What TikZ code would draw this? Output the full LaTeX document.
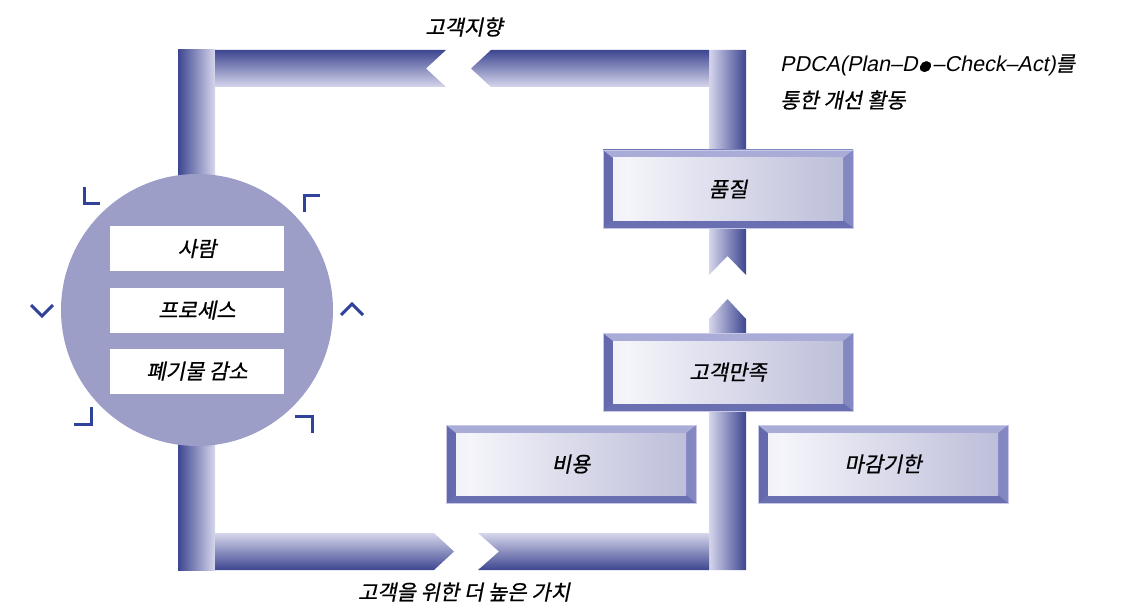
\documentclass[tikz,border=0pt]{standalone}
\usepackage{fontspec}
\newfontfamily\kofont{Noto Sans CJK KR}[FakeSlant=0.2,FakeBold=0.8]
\newfontfamily\lafont{Liberation Sans}[FakeSlant=0.2]
\usepackage{tikz}
\usepackage{xcolor}
\definecolor{bardark}{HTML}{3D4690}
\definecolor{barlight}{HTML}{D6D6EC}
\definecolor{circfill}{HTML}{9C9EC8}
\definecolor{chev}{HTML}{30429A}
\definecolor{bevL}{HTML}{6469AD}
\definecolor{bevR}{HTML}{8589C2}
\definecolor{bevT}{HTML}{A9ACD6}
\definecolor{bevB}{HTML}{6A6FB2}
\definecolor{rim}{HTML}{C6C8E6}
\definecolor{faceL}{HTML}{DCDCEC}
\definecolor{faceH}{HTML}{F4F4FA}
\definecolor{faceR}{HTML}{A0A2C8}
\pgfdeclarehorizontalshading{boxface}{100bp}{color(0bp)=(faceL); color(28bp)=(faceH); color(100bp)=(faceR)}

\begin{document}
\begin{tikzpicture}[x=1pt,y=-1pt,
  every node/.style={font=\kofont\fontsize{21}{25}\selectfont,inner sep=0pt},
  whitebox/.style={fill=white,minimum width=174,minimum height=45},
  face/.style={shading=boxface,minimum width=230,minimum height=62},
  chevline/.style={chev,line width=3pt,line join=miter}]
\useasboundingbox (0,0) rectangle (1122,607);

% frame: vertical bars
\shade[left color=bardark,right color=barlight] (178,50) rectangle (215,570);
\shade[left color=barlight,right color=bardark] (709,50) -- (746,50) -- (746,275) -- (727.5,256) -- (709,275) -- cycle;
\shade[left color=barlight,right color=bardark] (709,570) -- (709,319) -- (727.5,299) -- (746,319) -- (746,570) -- cycle;
% frame: top bar (to the left)
\shade[top color=bardark,bottom color=barlight] (215,50) -- (446,50) -- (426,68.5) -- (446,87) -- (215,87) -- cycle;
\shade[top color=bardark,bottom color=barlight] (709,50) -- (491,50) -- (471,68.5) -- (491,87) -- (709,87) -- cycle;
% frame: bottom bar (to the right)
\shade[top color=barlight,bottom color=bardark] (215,533) -- (434,533) -- (454,551.5) -- (434,570) -- (215,570) -- cycle;
\shade[top color=barlight,bottom color=bardark] (478,533) -- (709,533) -- (709,570) -- (478,570) -- (499,551.5) -- cycle;

% circle
\fill[circfill] (197,310) circle (136);
\node[whitebox] (people) at (197,248.5) {사람};
\node[whitebox] (process) at (197,310) {프로세스};
\node[whitebox] (waste) at (197,371) {폐기물 감소};

% arrowheads round the circle
\draw[chevline] (84,187) -- (84,203) -- (100,203);
\draw[chevline] (320,195) -- (304,195) -- (304,212);
\draw[chevline] (31,305) -- (42,316) -- (53,305);
\draw[chevline] (341,315) -- (352,304) -- (363,315);
\draw[chevline] (74,424) -- (91,424) -- (91,407);
\draw[chevline] (295,416) -- (312,416) -- (312,433);

% bevelled boxes
\shade[left color=bevL,right color=bevR] (603,150) rectangle (853,228);
\fill[bevT] (603,150) -- (853,150) -- (843,158) -- (613,158) -- cycle;
\fill[bevB] (603,228) -- (853,228) -- (843,220) -- (613,220) -- cycle;
\node[face] (quality) at (728,189) {품질};
\draw[rim] (603,150) rectangle (853,228);

\shade[left color=bevL,right color=bevR] (603,333) rectangle (853,411);
\fill[bevT] (603,333) -- (853,333) -- (843,341) -- (613,341) -- cycle;
\fill[bevB] (603,411) -- (853,411) -- (843,403) -- (613,403) -- cycle;
\node[face] (satisfy) at (728,372) {고객만족};
\draw[rim] (603,333) rectangle (853,411);

\shade[left color=bevL,right color=bevR] (446,425) rectangle (696,503);
\fill[bevT] (446,425) -- (696,425) -- (686,433) -- (456,433) -- cycle;
\fill[bevB] (446,503) -- (696,503) -- (686,495) -- (456,495) -- cycle;
\node[face] (cost) at (571,464) {비용};
\draw[rim] (446,425) rectangle (696,503);

\shade[left color=bevL,right color=bevR] (758,425) rectangle (1008,503);
\fill[bevT] (758,425) -- (1008,425) -- (998,433) -- (768,433) -- cycle;
\fill[bevB] (758,503) -- (1008,503) -- (998,495) -- (768,495) -- cycle;
\node[face] (deadline) at (883,464) {마감기한};
\draw[rim] (758,425) rectangle (1008,503);

% labels
\node (toplabel) at (464,27) {고객지향};
\node (botlabel) at (464,592) {고객을 위한 더 높은 가치};
\node[anchor=west] (pdca) at (780,65) {{\lafont\fontsize{21.5}{25}\selectfont PDCA(Plan–D\kern1pt{\kofont\fontsize{12}{12}\selectfont ●}\kern2pt–Check–Act)}를};
\node[anchor=west] (pdcb) at (780,100) {통한 개선 활동};
\end{tikzpicture}
\end{document}
